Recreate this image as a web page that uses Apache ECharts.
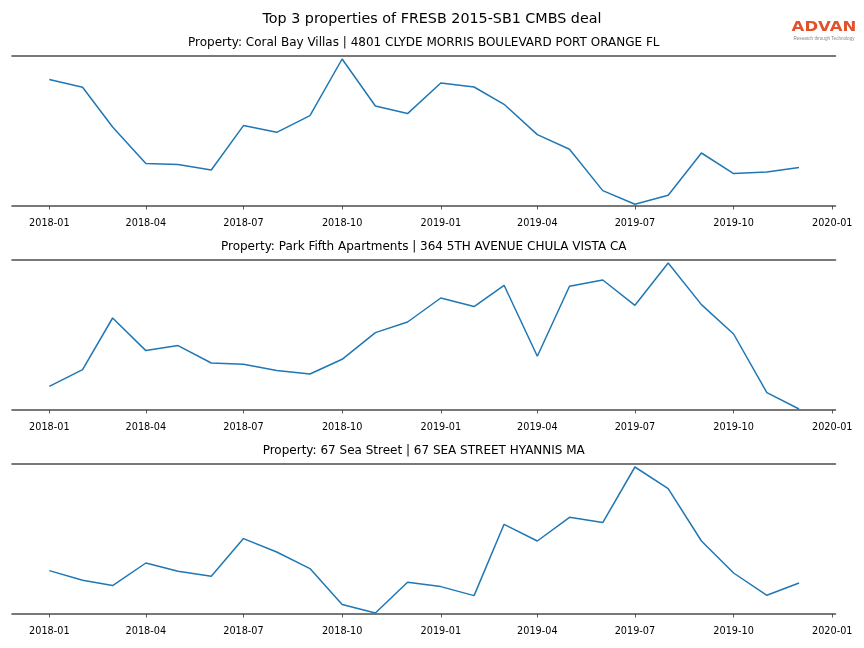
<!DOCTYPE html>
<html>
<head>
<meta charset="utf-8">
<script src="https://cdn.jsdelivr.net/npm/echarts@6/dist/echarts.min.js"></script>
<style>
html,body{margin:0;padding:0;background:#fff;}
#chart{width:864px;height:648px;}
</style>
</head>
<body>
<div id="chart"></div>
<script>
// ---- data ----
const months = ['2018-01','2018-02','2018-03','2018-04','2018-05','2018-06','2018-07','2018-08','2018-09','2018-10','2018-11','2018-12',
                '2019-01','2019-02','2019-03','2019-04','2019-05','2019-06','2019-07','2019-08','2019-09','2019-10','2019-11','2019-12'];
const tickLabels = ['2018-01','2018-04','2018-07','2018-10','2019-01','2019-04','2019-07','2019-10','2020-01'];
const mainTitle = 'Top 3 properties of FRESB 2015-SB1 CMBS deal';
const panelTitles = [
  'Property: Coral Bay Villas | 4801 CLYDE MORRIS BOULEVARD PORT ORANGE FL',
  'Property: Park Fifth Apartments | 364 5TH AVENUE CHULA VISTA CA',
  'Property: 67 Sea Street | 67 SEA STREET HYANNIS MA'
];
const coralBay = [126.4,118.7,79,42.4,41.4,36,80.4,73.7,90.4,147,100,92.4,123,119,101.7,71.4,56.7,15.4,1.7,10.7,53,32.4,34,38.4];
const parkFifth = [23.7,40.4,92,59.4,64.4,47,45.7,39.4,36,50.7,77.4,88,112,103.4,124.7,53.7,123.7,130,104.7,147,105.4,76,17.4,1];
const seaStreet = [43.4,33.7,28.4,51,42.7,37.7,75.4,62,45.4,9.4,1,31.7,27.4,18.4,89.7,73,96.7,91.4,147,125.4,73,41,18.7,31];
const seriesList = [coralBay, parkFifth, seaStreet];

// ---- helpers ----
function ts(s){ const p = s.split('-'); return Date.UTC(+p[0], +p[1]-1, 1); }
function pad(n){ return (n<10?'0':'')+n; }
const DAY = 86400000;
const xMin = Date.UTC(2017,10,28) - 0.8*DAY;
const xMax = Date.UTC(2020,0,4);
const tickValues = tickLabels.map(ts);
const font = 'DejaVu Sans';
const spineColor = '#4d4d4d';

const gridTops = [56, 260, 464];
const grids = [], xAxes = [], yAxes = [], series = [], graphics = [];

gridTops.forEach(function(top, i){
  grids.push({left: 12, top: top, width: 823.5, height: 150, containLabel: false});
  xAxes.push({
    type: 'value', gridIndex: i, min: xMin, max: xMax, position: 'bottom',
    axisLine: {show: true, lineStyle: {color: spineColor, width: 1.6}},
    axisTick: {show: true, length: 3.5, lineStyle: {color: '#333', width: 0.8}, customValues: tickValues},
    axisLabel: {show: true, customValues: tickValues, fontFamily: font, fontSize: 9.7, color: '#000', margin: 12.5,
      formatter: function(v){ const d = new Date(v); return d.getUTCFullYear() + '-' + pad(d.getUTCMonth()+1); }},
    splitLine: {show: false}
  });
  xAxes.push({
    type: 'value', gridIndex: i, min: xMin, max: xMax, position: 'top',
    axisLine: {show: true, lineStyle: {color: spineColor, width: 1.6}},
    axisTick: {show: false}, axisLabel: {show: false}, splitLine: {show: false}
  });
  yAxes.push({type: 'value', gridIndex: i, min: 0, max: 150, show: false, splitLine: {show: false}});
  series.push({
    type: 'line', xAxisIndex: i*2, yAxisIndex: i, showSymbol: false, symbol: 'none',
    lineStyle: {color: '#1f77b4', width: 1.5}, animation: false,
    data: months.map(function(m, k){ return [ts(m), seriesList[i][k]]; })
  });
  graphics.push({type: 'text', x: 423.75, y: top - 13.5, style: {text: panelTitles[i], fontFamily: font, fontSize: 12.0, fill: '#000', textAlign: 'center', textVerticalAlign: 'middle'}});
});

graphics.push({type: 'text', x: 432, y: 19.5, style: {text: mainTitle, fontFamily: font, fontSize: 14.3, fill: '#000', textAlign: 'center', textVerticalAlign: 'middle'}});
graphics.push({type: 'text', x: 824, y: 27, scaleX: 1.18, style: {text: 'ADVAN', fontFamily: font, fontSize: 14, fontWeight: 'bold', fill: '#E2522A', textAlign: 'center', textVerticalAlign: 'middle'}});
graphics.push({type: 'text', x: 824, y: 38.5, style: {text: 'Research through Technology', fontFamily: 'Liberation Sans', fontSize: 4.6, fill: '#888', textAlign: 'center', textVerticalAlign: 'middle'}});

const chart = echarts.init(document.getElementById('chart'), null, {renderer: 'canvas'});
chart.setOption({
  animation: false,
  backgroundColor: '#fff',
  grid: grids,
  xAxis: xAxes,
  yAxis: yAxes,
  series: series,
  graphic: graphics
});
</script>
</body>
</html>
